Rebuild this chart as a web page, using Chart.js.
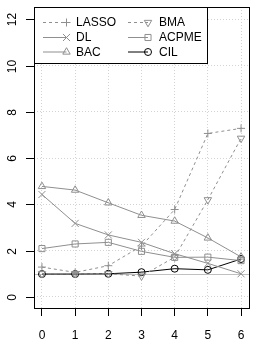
<!DOCTYPE html>
<html><head><meta charset="utf-8">
<script src="https://cdn.jsdelivr.net/npm/chart.js@4"></script>
<style>html,body{margin:0;padding:0;background:#fff}#wrap{width:258px;height:343px}</style>
</head><body><div id="wrap"><canvas id="c" width="258" height="343"></canvas></div>
<script>
const xValues = [0, 1, 2, 3, 4, 5, 6];
const yTicks = [0, 2, 4, 6, 8, 10, 12];
const lasso = [1.29, 1.06, 1.35, 2.2, 3.78, 7.07, 7.29];
const dl = [4.43, 3.18, 2.68, 2.36, 1.87, 1.45, 1.0];
const bac = [4.78, 4.62, 4.07, 3.53, 3.28, 2.55, 1.73];
const bma = [1.0, 1.0, 1.0, 0.9, 1.72, 4.2, 6.86];
const acpme = [2.09, 2.29, 2.36, 1.97, 1.71, 1.72, 1.57];
const cil = [0.99, 0.99, 1.0, 1.07, 1.22, 1.17, 1.64];
const refLine = 1;

const GRAY = '#8f8f8f';
const FONT = '"Liberation Sans", Arial, sans-serif';
const series = [
  {label:'LASSO', data:lasso, color:GRAY, dash:[3,3], style:'cross', r:4, rot:0},
  {label:'DL', data:dl, color:GRAY, dash:[], style:'crossRot', r:5, rot:0},
  {label:'BAC', data:bac, color:GRAY, dash:[], style:'triangle', r:4.3, rot:0},
  {label:'BMA', data:bma, color:GRAY, dash:[3,3], style:'triangle', r:4.3, rot:180},
  {label:'ACPME', data:acpme, color:GRAY, dash:[], style:'rect', r:4.3, rot:0},
  {label:'CIL', data:cil, color:'#000', dash:[], style:'circle', r:3.5, rot:0}
];

const datasets = series.map(s => ({
  label: s.label,
  data: s.data.map((v,i)=>({x:xValues[i], y:v})),
  borderColor: s.color, borderWidth: 1, borderDash: s.dash,
  pointStyle: s.style, pointRadius: s.r, pointRotation: s.rot,
  pointBorderColor: s.color, pointBackgroundColor: 'rgba(0,0,0,0)', pointBorderWidth: 1,
  fill: false, tension: 0
}));

const framePlugin = {
  id: 'frame',
  beforeDatasetsDraw(chart) {
    const {ctx, chartArea:a, scales} = chart;
    const y = scales.y.getPixelForValue(refLine);
    ctx.save();
    ctx.strokeStyle = '#c0c0c0'; ctx.lineWidth = 1;
    ctx.beginPath(); ctx.moveTo(a.left, Math.round(y)+0.5); ctx.lineTo(a.right, Math.round(y)+0.5); ctx.stroke();
    ctx.restore();
  },
  afterDraw(chart) {
    const {ctx, chartArea:a, scales} = chart;
    ctx.save();
    ctx.strokeStyle = '#000'; ctx.lineWidth = 1;
    ctx.strokeRect(Math.round(a.left)+0.5, Math.round(a.top)+0.5, Math.round(a.right-a.left), Math.round(a.bottom-a.top));
    ctx.fillStyle = '#000'; ctx.font = '12px ' + FONT;
    ctx.textAlign = 'center'; ctx.textBaseline = 'middle';
    yTicks.forEach(t => {
      const py = Math.round(scales.y.getPixelForValue(t)) + 0.5;
      ctx.beginPath(); ctx.moveTo(a.left, py); ctx.lineTo(a.left - 8, py); ctx.stroke();
      ctx.save(); ctx.translate(13, py); ctx.rotate(-Math.PI/2); ctx.fillText(String(t), 0, 0); ctx.restore();
    });
    // legend
    const bx = Math.round(a.left)+0.5, by = Math.round(a.top)+0.5;
    ctx.fillStyle = '#fff';
    ctx.fillRect(bx, by, 173, 56);
    ctx.strokeStyle = '#000';
    ctx.strokeRect(bx, by, 173, 56);
    const rows = [22.5, 37.5, 52];
    const cols = [{x0:43, m:66.5, tx:76}, {x0:128, m:148, tx:159}];
    series.forEach((s, k) => {
      const c = cols[Math.floor(k/3)], yy = rows[k%3];
      ctx.save();
      ctx.strokeStyle = s.color; ctx.lineWidth = 1; ctx.setLineDash(s.dash);
      ctx.beginPath(); ctx.moveTo(c.x0, yy); ctx.lineTo(c.m, yy); ctx.stroke();
      ctx.setLineDash([]);
      ctx.fillStyle = 'rgba(0,0,0,0)';
      Chart.helpers.drawPoint(ctx, {pointStyle:s.style, rotation:s.rot, radius:s.r, borderWidth:1}, c.m, yy);
      ctx.restore();
      ctx.fillStyle = '#000'; ctx.textAlign = 'left'; ctx.textBaseline = 'middle';
      ctx.fillText(s.label, c.tx, yy + 0.5);
    });
    ctx.restore();
  }
};

new Chart(document.getElementById('c'), {
  type: 'line',
  data: { datasets },
  options: {
    responsive: false, animation: false, devicePixelRatio: 1,
    layout: { padding: { top: 7, right: 9, left: 0, bottom: 0 } },
    plugins: { legend: { display: false }, tooltip: { enabled: false } },
    scales: {
      x: {
        type: 'linear', min: -0.24, max: 6.24,
        afterBuildTicks: s => { s.ticks = xValues.map(v => ({value: v})); },
        afterFit: s => { s.height = 35; },
        grid: { color: '#d3d3d3', lineWidth: 1, drawTicks: true, tickLength: 8, tickColor: '#000', tickBorderDash: [] },
        border: { display: false, dash: [1, 2] },
        ticks: { color: '#000', font: { family: FONT, size: 12 }, padding: 12, maxRotation: 0, autoSkip: false }
      },
      y: {
        type: 'linear', min: -0.48, max: 12.54,
        afterBuildTicks: s => { s.ticks = yTicks.map(v => ({value: v})); },
        afterFit: s => { s.width = 34; },
        grid: { color: '#d3d3d3', lineWidth: 1, drawTicks: false },
        border: { display: false, dash: [1, 2] },
        ticks: { display: false }
      }
    }
  },
  plugins: [framePlugin]
});
</script></body></html>
